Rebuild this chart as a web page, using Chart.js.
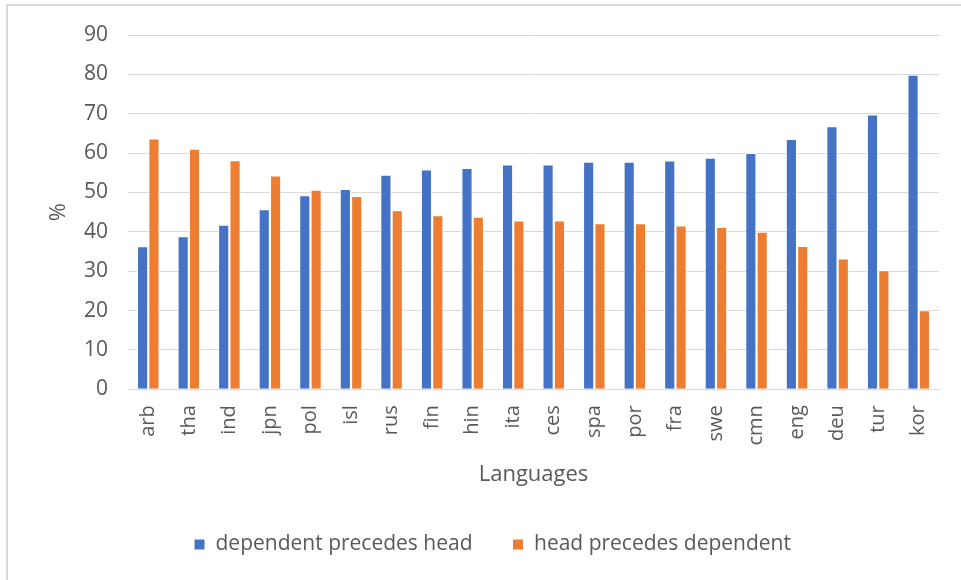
<!DOCTYPE html>
<html>
<head>
<meta charset="utf-8">
<script src="https://cdn.jsdelivr.net/npm/chart.js@4"></script>
<style>
  html, body { margin: 0; padding: 0; background: #fff; }
  #caja { position: relative; width: 961px; height: 580px; }
</style>
</head>
<body>
<div id="caja"><canvas id="miGrafico" width="961" height="580"></canvas></div>
<script>
// datos
const idiomas = ['arb', 'tha', 'ind', 'jpn', 'pol', 'isl', 'rus', 'fin', 'hin', 'ita',
                 'ces', 'spa', 'por', 'fra', 'swe', 'cmn', 'eng', 'deu', 'tur', 'kor'];
const dependienteAntes = [36.3, 38.9, 41.8, 45.7, 49.3, 50.9, 54.5, 55.8, 56.2, 57.1,
                          57.1, 57.8, 57.8, 58.1, 58.8, 60.0, 63.6, 66.8, 69.8, 79.9];
const nucleoAntes = [63.7, 61.1, 58.2, 54.3, 50.7, 49.1, 45.5, 44.2, 43.8, 42.9,
                     42.9, 42.2, 42.2, 41.6, 41.2, 40.0, 36.4, 33.2, 30.2, 20.1];
const nombresSeries = ['dependent precedes head', 'head precedes dependent'];

const gris = '#595959';
const fuente = "'Open Sans', sans-serif";

// marco gris claro alrededor del grafico
const marco = {
    id: 'marco',
    beforeDraw(chart) {
        const ctx = chart.ctx;
        ctx.save();
        ctx.strokeStyle = '#d9d9d9';
        ctx.lineWidth = 2;
        ctx.beginPath();
        ctx.moveTo(7, 600);
        ctx.lineTo(7, 5);
        ctx.lineTo(980, 5);
        ctx.stroke();
        ctx.restore();
    }
};

const ctx = document.getElementById('miGrafico').getContext('2d');
new Chart(ctx, {
    type: 'bar',
    data: {
        labels: idiomas,
        datasets: [{
            label: nombresSeries[0],
            data: dependienteAntes,
            backgroundColor: '#4472C4',
            borderColor: '#ffffff',
            borderWidth: 1,
            categoryPercentage: 0.56,
            barPercentage: 0.98
        }, {
            label: nombresSeries[1],
            data: nucleoAntes,
            backgroundColor: '#ED7D31',
            borderColor: '#ffffff',
            borderWidth: 1,
            categoryPercentage: 0.56,
            barPercentage: 0.98
        }]
    },
    options: {
        responsive: false,
        animation: false,
        layout: { padding: { left: 46, right: 22, top: 35, bottom: 15 } },
        plugins: {
            legend: {
                position: 'bottom',
                labels: {
                    color: gris,
                    font: { family: fuente, size: 21 },
                    boxWidth: 11,
                    boxHeight: 11,
                    padding: 40
                }
            },
            tooltip: { enabled: false }
        },
        scales: {
            x: {
                grid: { display: false },
                border: { color: '#d9d9d9', width: 1 },
                ticks: {
                    color: gris,
                    font: { family: fuente, size: 20 },
                    minRotation: 90,
                    maxRotation: 90,
                    padding: 8
                },
                title: {
                    display: true,
                    text: 'Languages',
                    color: gris,
                    font: { family: fuente, size: 22 },
                    padding: { top: 8, bottom: 6 }
                }
            },
            y: {
                min: 0,
                max: 90,
                afterFit: (escala) => { escala.width = 82; },
                grid: { color: '#d9d9d9', drawTicks: false },
                border: { display: false },
                ticks: {
                    stepSize: 10,
                    color: gris,
                    font: { family: fuente, size: 21 },
                    padding: 20
                },
                title: {
                    display: true,
                    text: '%',
                    color: gris,
                    font: { family: fuente, size: 22 },
                    padding: 0
                }
            }
        }
    },
    plugins: [marco]
});
</script>
</body>
</html>
